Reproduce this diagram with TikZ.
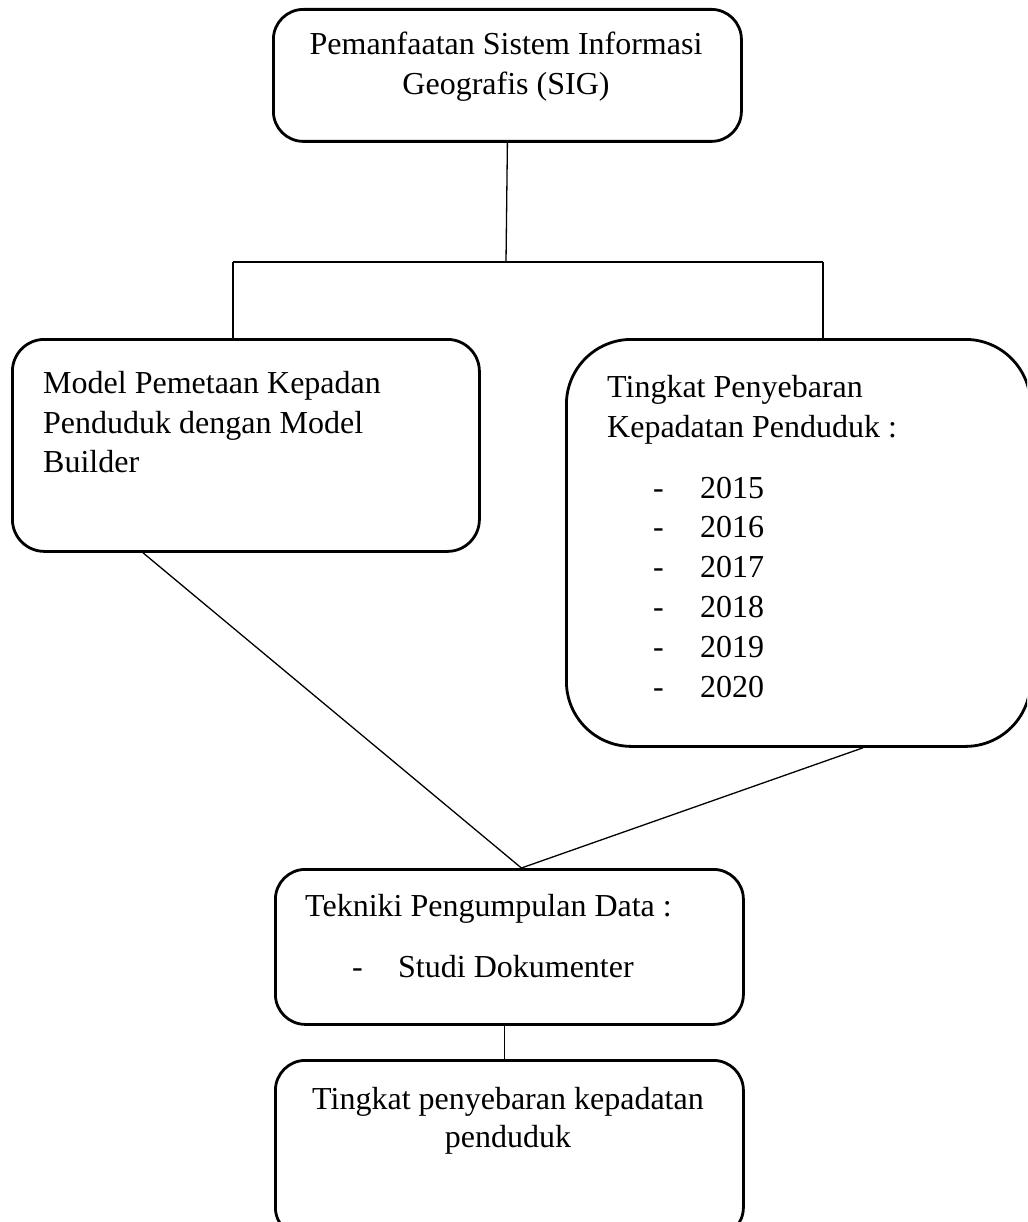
\documentclass[tikz,border=0pt]{standalone}
\usepackage{fontspec}
\setmainfont{Liberation Serif}
\begin{document}
\begin{tikzpicture}[x=1pt,y=-1pt,
  box/.style={draw, line width=2.8pt, inner sep=0pt, anchor=north west},
  conn/.style={line width=1.3pt},
  txt/.style={inner sep=0pt, anchor=base west, font=\fontsize{32}{40}\selectfont},
  ctxt/.style={inner sep=0pt, anchor=base, font=\fontsize{32}{40}\selectfont}]
\clip (0,0) rectangle (1027,1222);
% boxes
\node[box, rounded corners=30pt, minimum width=468pt, minimum height=132pt] (top) at (272,8) {};
\node[box, rounded corners=32pt, minimum width=467pt, minimum height=212pt] (model) at (11,338) {};
\node[box, rounded corners=65pt, minimum width=464pt, minimum height=407pt] (tingkat) at (565,338) {};
\node[box, rounded corners=30pt, minimum width=468pt, minimum height=155pt] (tek) at (274,868) {};
\node[box, rounded corners=30pt, minimum width=468pt, minimum height=177pt] (hasil) at (274,1059) {};
% texts
\node[ctxt] (t1) at (506,55) {Pemanfaatan Sistem Informasi};
\node[ctxt] (t2) at (506,95) {Geografis (SIG)};
\node[txt] (m1) at (43,393) {Model Pemetaan Kepadan};
\node[txt] (m2) at (43,433) {Penduduk dengan Model};
\node[txt] (m3) at (43,472) {Builder};
\node[txt] (k1) at (607,397) {Tingkat Penyebaran};
\node[txt] (k2) at (607,437) {Kepadatan Penduduk :};
\foreach \yr [count=\i from 0] in {2015,2016,2017,2018,2019,2020}{
  \node[txt] (d\i) at (653,498+39.8*\i) {-};
  \node[txt] (y\i) at (700,498+39.8*\i) {\yr};
}
\node[txt] (e1) at (305,916) {Tekniki Pengumpulan Data :};
\node[txt] (e2) at (352,977) {-};
\node[txt] (e3) at (398,977) {Studi Dokumenter};
\node[ctxt] (h1) at (508,1109) {Tingkat penyebaran kepadatan};
\node[ctxt] (h2) at (508,1147) {penduduk};
% connectors
\coordinate (hub) at (506,262);
\coordinate (lj) at (233,262);
\coordinate (rj) at (823,262);
\coordinate (apex) at ([xshift=12pt]tek.north);
\draw[conn] (top.south) -- (hub);
\draw[conn] (lj) -- (rj);
\draw[conn] (lj) -- (lj |- model.north);
\draw[conn] (rj) -- (rj |- tingkat.north);
\draw[conn] ([xshift=132pt]model.south west) -- (apex) -- ([xshift=298pt]tingkat.south west);
\draw[conn] ([xshift=-5pt]tek.south) -- ([xshift=-5pt]hasil.north);
\end{tikzpicture}
\end{document}
